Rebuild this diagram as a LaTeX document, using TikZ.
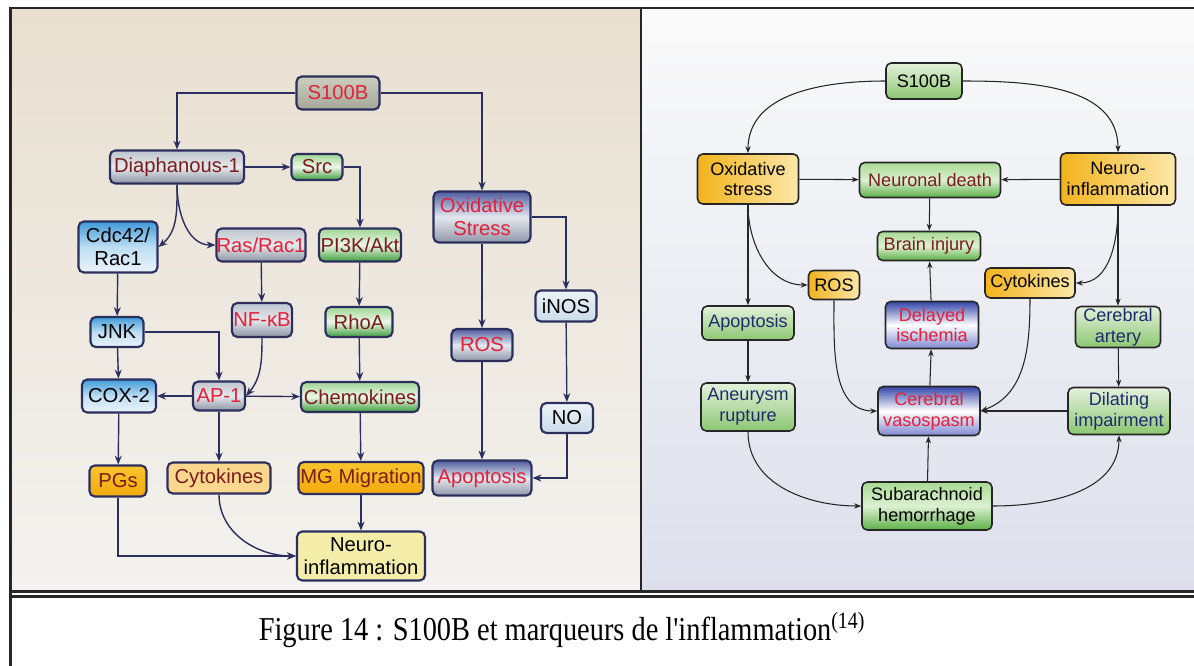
\documentclass[tikz,border=0pt]{standalone}
\usepackage{fontspec}
\setmainfont{Liberation Serif}
\setsansfont{Liberation Sans}
\usetikzlibrary{arrows.meta, positioning, calc}

\definecolor{navyline}{HTML}{2C2F5E}
\definecolor{txtred}{HTML}{E3203A}
\definecolor{txtmaroon}{HTML}{7A1C1C}
\definecolor{txtnavy}{HTML}{1F2B6E}

\tikzset{
    cell/.style 2 args={
        rectangle, rounded corners=3pt, inner sep=0pt,
        minimum width=#1, minimum height=#2, align=center
    },
    lbox/.style 2 args={
        cell={#1}{#2}, draw=navyline, line width=1.2pt,
        font=\sffamily\fontsize{11.5}{13}\selectfont
    },
    rbox/.style 2 args={
        cell={#1}{#2}, draw=black!85, line width=0.9pt,
        font=\sffamily\fontsize{10.3}{11.8}\selectfont
    },
    % fills, left panel
    sandfill/.style={top color={rgb,255:red,203;green,205;blue,190}, bottom color={rgb,255:red,165;green,168;blue,152}},
    greyfill/.style={top color={rgb,255:red,190;green,197;blue,205}, bottom color={rgb,255:red,140;green,149;blue,166}, middle color={rgb,255:red,230;green,232;blue,235}},
    bluefill/.style={top color={rgb,255:red,62;green,154;blue,216}, bottom color={rgb,255:red,234;green,244;blue,251}, middle color={rgb,255:red,190;green,222;blue,243}},
    greenfill/.style={top color={rgb,255:red,160;green,214;blue,148}, bottom color={rgb,255:red,62;green,158;blue,62}, middle color={rgb,255:red,236;green,246;blue,232}},
    slatefill/.style={top color={rgb,255:red,78;green,92;blue,158}, bottom color={rgb,255:red,144;green,151;blue,170}, middle color={rgb,255:red,228;green,232;blue,238}},
    icefill/.style={top color={rgb,255:red,236;green,243;blue,248}, bottom color={rgb,255:red,202;green,220;blue,234}},
    amberfill/.style={top color={rgb,255:red,249;green,196;blue,44}, bottom color={rgb,255:red,242;green,170;blue,14}},
    peachfill/.style={fill={rgb,255:red,249;green,216;blue,142}},
    lemonfill/.style={fill={rgb,255:red,244;green,237;blue,170}},
    % fills, right panel
    paleleaf/.style={top color={rgb,255:red,228;green,241;blue,220}, bottom color={rgb,255:red,140;green,199;blue,114}},
    leaf/.style={top color={rgb,255:red,168;green,218;blue,146}, bottom color={rgb,255:red,92;green,176;blue,70}, middle color={rgb,255:red,220;green,240;blue,210}},
    sunfill/.style={left color={rgb,255:red,243;green,179;blue,28}, right color={rgb,255:red,252;green,232;blue,170}},
    skyfill/.style={top color={rgb,255:red,52;green,70;blue,168}, bottom color={rgb,255:red,128;green,136;blue,208}, middle color=white},
    larrow/.style={-{Stealth[length=5pt,width=4pt]}, draw=navyline, line width=0.8pt},
    rarrow/.style={-{Stealth[length=4pt,width=3pt]}, draw=black!85, line width=0.6pt}
}

\begin{document}
\begin{tikzpicture}[x=0.02cm, y=-0.02cm]
\useasboundingbox (0,0) rectangle (1194,666);

% panels
\fill[top color={rgb,255:red,232;green,223;blue,208}, bottom color={rgb,255:red,243;green,242;blue,239}] (10,8) rectangle (641,592);
\fill[top color={rgb,255:red,250;green,250;blue,250}, bottom color={rgb,255:red,221;green,224;blue,236}] (641,8) rectangle (1194,592);
\draw[line width=1.4pt, black!85] (9,8) -- (1194,8);
\draw[line width=0.9pt, black!85] (641,8) -- (641,592);
\draw[line width=1.2pt, black!85] (9,591.5) -- (1194,591.5);
\draw[line width=1.2pt, black!85] (9,596.5) -- (1194,596.5);
\draw[line width=1.8pt, black!85] (10.5,7) -- (10.5,666);

% Left panel: nodes
\node[lbox={1.66cm}{0.66cm}, sandfill, text=txtred] (s100l) at (338,93) {S100B};
\node[lbox={2.68cm}{0.66cm}, greyfill, text=txtmaroon] (diaph) at (177,167) {Diaphanous-1};
\node[lbox={1.02cm}{0.52cm}, greenfill, text=txtmaroon] (src) at (317,167) {Src};
\node[lbox={1.58cm}{1.02cm}, bluefill] (cdc) at (118,247) {Cdc42/\\Rac1};
\node[lbox={1.78cm}{0.66cm}, greyfill, text=txtred] (ras) at (261,245) {Ras/Rac1};
\node[lbox={1.64cm}{0.66cm}, greenfill, text=txtmaroon] (pik) at (360,245) {PI3K/Akt};
\node[lbox={1.94cm}{1.02cm}, slatefill, text=txtred] (oxl) at (482,217) {Oxidative\\Stress};
\node[lbox={1.22cm}{0.62cm}, icefill] (inos) at (566,306) {iNOS};
\node[lbox={1.06cm}{0.60cm}, bluefill] (jnk) at (117,332) {JNK};
\node[lbox={1.20cm}{0.68cm}, greyfill, text=txtred] (nfkb) at (262,320) {NF-κB};
\node[lbox={1.34cm}{0.60cm}, greenfill, text=txtmaroon] (rhoa) at (359,322) {RhoA};
\node[lbox={1.22cm}{0.64cm}, slatefill, text=txtred] (rosl) at (482,345) {ROS};
\node[lbox={1.48cm}{0.66cm}, bluefill] (cox) at (119,396) {COX-2};
\node[lbox={1.04cm}{0.58cm}, greyfill, text=txtred] (ap1) at (219,396) {AP-1};
\node[lbox={2.36cm}{0.60cm}, greenfill, text=txtmaroon] (chemo) at (360,397) {Chemokines};
\node[lbox={1.04cm}{0.60cm}, icefill] (no) at (567,418) {NO};
\node[lbox={1.14cm}{0.62cm}, amberfill, text=txtmaroon] (pgs) at (118,481) {PGs};
\node[lbox={2.06cm}{0.62cm}, peachfill, text=txtmaroon] (cytol) at (219,478) {Cytokines};
\node[lbox={2.50cm}{0.64cm}, amberfill, text=txtmaroon] (mg) at (361,478) {MG Migration};
\node[lbox={1.98cm}{0.70cm}, slatefill, text=txtred] (apol) at (482,478) {Apoptosis};
\node[lbox={2.56cm}{0.98cm}, lemonfill] (neurol) at (361,556) {Neuro-\\inflammation};

% Left panel: arrows
\draw[larrow] (s100l.west) -| (diaph.north);
\draw[larrow] (s100l.east) -| (oxl.north);
\draw[larrow] (diaph) -- (src);
\draw[larrow] (src.east) -| (pik.north);
\draw[larrow] (diaph.south) to[out=-90, in=40] (cdc.east);
\draw[larrow] (diaph.south) to[out=-90, in=180] (ras.west);
\draw[larrow] (cdc) -- (jnk);
\draw[larrow] (ras) -- (nfkb);
\draw[larrow] (pik) -- (rhoa);
\draw[larrow] (oxl) -- (rosl);
\draw[larrow] (oxl.east) -| (inos.north);
\draw[larrow] (jnk.east) -| (ap1.north);
\draw[larrow] (nfkb.south) to[out=-90, in=50] (ap1.east);
\draw[larrow] (jnk) -- (cox);
\draw[larrow] (ap1) -- (cox);
\draw[larrow] (ap1) -- (chemo);
\draw[larrow] (rhoa) -- (chemo);
\draw[larrow] (inos) -- (no);
\draw[larrow] (rosl) -- (apol);
\draw[larrow] (no.south) |- (apol.east);
\draw[larrow] (cox) -- (pgs);
\draw[larrow] (ap1) -- (cytol);
\draw[larrow] (chemo) -- (mg);
\draw[larrow] (mg) -- (neurol);
\draw[larrow] (pgs.south) |- (neurol.west);
\draw[larrow] (cytol.south) to[out=-90, in=180] (neurol.west);

% Right panel: nodes
\node[rbox={1.52cm}{0.72cm}, paleleaf] (s100r) at (924,81) {S100B};
\node[rbox={2.02cm}{1.00cm}, sunfill] (oxr) at (748,179) {Oxidative\\stress};
\node[rbox={2.82cm}{0.70cm}, leaf, text=txtmaroon] (death) at (930,180) {Neuronal death};
\node[rbox={2.30cm}{1.04cm}, sunfill] (neuror) at (1118,179) {Neuro-\\inflammation};
\node[rbox={2.06cm}{0.58cm}, leaf, text=txtmaroon] (injury) at (929,246) {Brain injury};
\node[rbox={1.02cm}{0.58cm}, sunfill] (rosr) at (834,285) {ROS};
\node[rbox={1.80cm}{0.60cm}, sunfill] (cytor) at (1030,283) {Cytokines};
\node[rbox={1.84cm}{0.68cm}, paleleaf, text=txtnavy] (apor) at (748,323) {Apoptosis};
\node[rbox={1.86cm}{0.94cm}, skyfill, text=txtred] (delay) at (932,325) {Delayed\\ischemia};
\node[rbox={1.70cm}{0.82cm}, paleleaf, text=txtnavy] (artery) at (1118,327) {Cerebral\\artery};
\node[rbox={1.88cm}{0.96cm}, paleleaf, text=txtnavy] (aneur) at (748,407) {Aneurysm\\rupture};
\node[rbox={2.04cm}{0.98cm}, skyfill, text=txtred] (vaso) at (929,411) {Cerebral\\vasospasm};
\node[rbox={2.04cm}{0.94cm}, paleleaf, text=txtnavy] (dilat) at (1119,411) {Dilating\\impairment};
\node[rbox={2.60cm}{0.96cm}, leaf] (sah) at (927,506) {Subarachnoid\\hemorrhage};

% Right panel: arrows
\draw[rarrow] (s100r.west) to[out=180, in=90] (oxr.north);
\draw[rarrow] (s100r.east) to[out=0, in=90] (neuror.north);
\draw[rarrow] (oxr) -- (death);
\draw[rarrow] (neuror) -- (death);
\draw[rarrow] (death) -- (injury);
\draw[rarrow] (delay) -- (injury);
\draw[rarrow] (oxr) -- (apor);
\draw[rarrow] (oxr.south) to[out=-90, in=180] (rosr.west);
\draw[rarrow] (neuror.south) to[out=-90, in=0] (cytor.east);
\draw[rarrow] (neuror) -- (artery);
\draw[rarrow] (apor) -- (aneur);
\draw[rarrow] (rosr.south) to[out=-90, in=180] (vaso.west);
\draw[rarrow] (cytor.south) to[out=-90, in=20] (vaso.east);
\draw[rarrow] (dilat) -- (vaso);
\draw[rarrow] (vaso) -- (delay);
\draw[rarrow] (artery) -- (dilat);
\draw[rarrow] (aneur.south) to[out=-90, in=180] (sah.west);
\draw[rarrow] (sah) -- (vaso);
\draw[rarrow] (sah.east) to[out=0, in=-90] (dilat.south);

% Caption
\node[font=\fontsize{19}{22}\selectfont, anchor=base] (caption) at (562,640)
    {\scalebox{0.85}[1]{Figure 14 : S100B et marqueurs de l\textquotesingle inflammation\textsuperscript{(14)}}};

\end{tikzpicture}
\end{document}
